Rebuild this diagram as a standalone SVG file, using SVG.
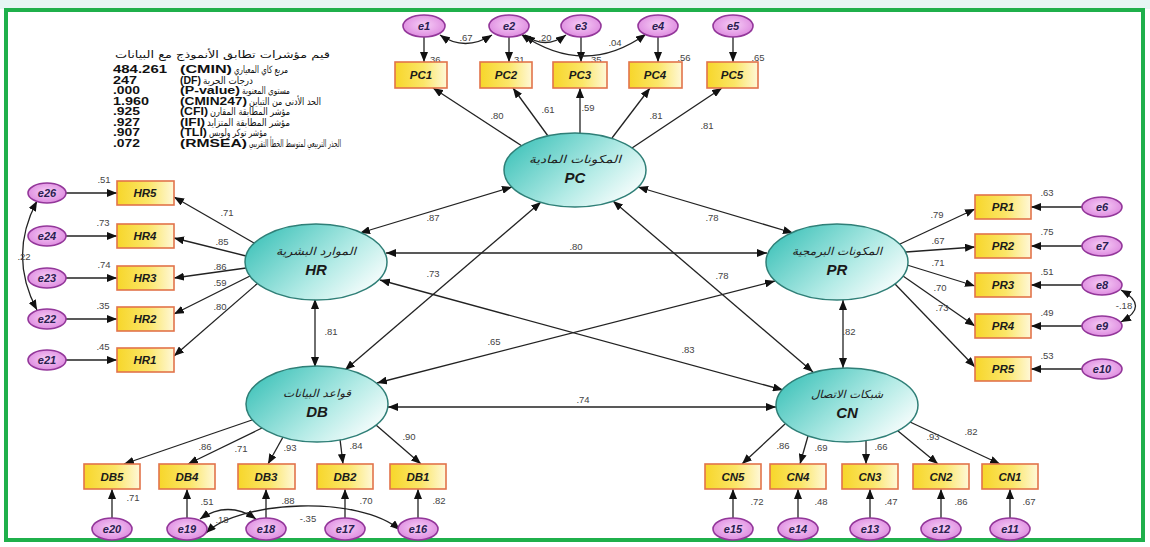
<svg xmlns="http://www.w3.org/2000/svg" width="1150" height="547" viewBox="0 0 1150 547">
<defs>
<marker id="ah" viewBox="0 0 10 8" refX="10" refY="4" markerWidth="10" markerHeight="8" markerUnits="userSpaceOnUse" orient="auto-start-reverse"><path d="M0,0 L10,4 L0,8 z" fill="#111"/></marker>
<radialGradient id="eg" cx="0.5" cy="0.45" r="0.6"><stop offset="0" stop-color="#f6cdf6"/><stop offset="1" stop-color="#dc86de"/></radialGradient>
<linearGradient id="bg" x1="0" y1="0" x2="1" y2="0"><stop offset="0" stop-color="#f7d62a"/><stop offset="0.55" stop-color="#fbe668"/><stop offset="1" stop-color="#fff8d8"/></linearGradient>
<linearGradient id="lg" x1="0" y1="0.2" x2="1" y2="0.8"><stop offset="0" stop-color="#3ec2b9"/><stop offset="0.6" stop-color="#b4ebe6"/><stop offset="1" stop-color="#ffffff"/></linearGradient>
<style>
.e{fill:url(#eg);stroke:#93379a;stroke-width:1.6}
.b{fill:url(#bg);stroke:#e2734a;stroke-width:1.6}
.l{fill:url(#lg);stroke:#2f7f77;stroke-width:1.5}
.el{font-family:"Liberation Sans",Arial,sans-serif;font-weight:bold;font-style:italic;font-size:11px;fill:#2a2050;text-anchor:middle}
.bl{font-family:"Liberation Sans",Arial,sans-serif;font-weight:bold;font-style:italic;font-size:11.5px;fill:#1a1a1a;text-anchor:middle}
.ar{font-family:"DejaVu Sans","Noto Sans",sans-serif;font-style:italic;font-size:11px;fill:#222;text-anchor:middle}
.code{font-family:"Liberation Sans",Arial,sans-serif;font-weight:bold;font-style:italic;font-size:15px;fill:#1a1a1a;text-anchor:middle}
.n{font-family:"Liberation Sans",Arial,sans-serif;font-size:9.5px;fill:#444;text-anchor:middle}
.t{font-family:"Liberation Sans",Arial,sans-serif;font-weight:bold;font-size:11px;fill:#111}
.ta{font-family:"DejaVu Sans","Noto Sans",sans-serif;font-size:10px;fill:#111}
.c line,.c path{stroke:#222;stroke-width:1.3;fill:none}
</style>
</defs>
<rect x="0" y="0" width="1150" height="547" fill="#ffffff"/>
<rect x="0" y="0" width="1150" height="9" fill="#e6f6f4"/>
<rect x="6" y="10" width="1137" height="530" fill="none" stroke="#1fb04b" stroke-width="4"/>

<g id="fit-table">
<text class="ta" x="115" y="58" textLength="215" lengthAdjust="spacingAndGlyphs">قيم مؤشرات تطابق الأنموذج مع البيانات</text>
<text class="t" x="113" y="73" textLength="54" lengthAdjust="spacingAndGlyphs">484.261</text>
<text class="t" x="180" y="73" textLength="52" lengthAdjust="spacingAndGlyphs">(CMIN)</text>
<text class="ta" x="234" y="73" textLength="54" lengthAdjust="spacingAndGlyphs">مربع كاي المعياري</text>
<text class="t" x="113" y="83.5" textLength="24" lengthAdjust="spacingAndGlyphs">247</text>
<text class="t" x="180" y="83.5" textLength="21" lengthAdjust="spacingAndGlyphs">(DF)</text>
<text class="ta" x="203" y="83.5" textLength="50" lengthAdjust="spacingAndGlyphs">درجات الحرية</text>
<text class="t" x="113" y="94" textLength="27" lengthAdjust="spacingAndGlyphs">.000</text>
<text class="t" x="180" y="94" textLength="60" lengthAdjust="spacingAndGlyphs">(P-value)</text>
<text class="ta" x="242" y="94" textLength="48" lengthAdjust="spacingAndGlyphs">مستوى المعنوية</text>
<text class="t" x="113" y="104.5" textLength="36" lengthAdjust="spacingAndGlyphs">1.960</text>
<text class="t" x="180" y="104.5" textLength="67" lengthAdjust="spacingAndGlyphs">(CMIN247)</text>
<text class="ta" x="249" y="104.5" textLength="72" lengthAdjust="spacingAndGlyphs">الحد الأدنى من التباين</text>
<text class="t" x="113" y="115" textLength="27" lengthAdjust="spacingAndGlyphs">.925</text>
<text class="t" x="180" y="115" textLength="28" lengthAdjust="spacingAndGlyphs">(CFI)</text>
<text class="ta" x="210" y="115" textLength="80" lengthAdjust="spacingAndGlyphs">مؤشر المطابقة المقارن</text>
<text class="t" x="113" y="125.5" textLength="27" lengthAdjust="spacingAndGlyphs">.927</text>
<text class="t" x="180" y="125.5" textLength="25" lengthAdjust="spacingAndGlyphs">(IFI)</text>
<text class="ta" x="207" y="125.5" textLength="83" lengthAdjust="spacingAndGlyphs">مؤشر المطابقة المتزايد</text>
<text class="t" x="113" y="136" textLength="27" lengthAdjust="spacingAndGlyphs">.907</text>
<text class="t" x="180" y="136" textLength="27" lengthAdjust="spacingAndGlyphs">(TLI)</text>
<text class="ta" x="209" y="136" textLength="58" lengthAdjust="spacingAndGlyphs">مؤشر توكر ولويس</text>
<text class="t" x="113" y="146.5" textLength="27" lengthAdjust="spacingAndGlyphs">.072</text>
<text class="t" x="180" y="146.5" textLength="67" lengthAdjust="spacingAndGlyphs">(RMSEA)</text>
<text class="ta" x="249" y="146.5" textLength="92" lengthAdjust="spacingAndGlyphs">الجذر التربيعي لمتوسط الخطأ التقريبي</text>
</g>

<g id="connectors" class="c">
<line x1="512" y1="187" x2="360" y2="233" marker-start="url(#ah)" marker-end="url(#ah)"/>
<line x1="638" y1="187" x2="793" y2="233" marker-start="url(#ah)" marker-end="url(#ah)"/>
<line x1="386" y1="253" x2="767" y2="253" marker-start="url(#ah)" marker-end="url(#ah)"/>
<line x1="541" y1="202" x2="345" y2="370" marker-start="url(#ah)" marker-end="url(#ah)"/>
<line x1="613" y1="201" x2="813" y2="372" marker-start="url(#ah)" marker-end="url(#ah)"/>
<line x1="380" y1="280" x2="783" y2="390" marker-start="url(#ah)" marker-end="url(#ah)"/>
<line x1="775" y1="281" x2="377" y2="383" marker-start="url(#ah)" marker-end="url(#ah)"/>
<line x1="388" y1="407" x2="776" y2="407" marker-start="url(#ah)" marker-end="url(#ah)"/>
<line x1="315" y1="299" x2="315" y2="367" marker-start="url(#ah)" marker-end="url(#ah)"/>
<line x1="843" y1="300" x2="843" y2="368" marker-start="url(#ah)" marker-end="url(#ah)"/>
<line x1="522" y1="146" x2="433" y2="88" marker-end="url(#ah)"/>
<line x1="548" y1="136" x2="513" y2="88" marker-end="url(#ah)"/>
<line x1="580" y1="133" x2="580" y2="88" marker-end="url(#ah)"/>
<line x1="612" y1="138" x2="650" y2="88" marker-end="url(#ah)"/>
<line x1="632" y1="148" x2="722" y2="88" marker-end="url(#ah)"/>
<line x1="424" y1="37" x2="424" y2="62" marker-end="url(#ah)"/>
<line x1="509" y1="37" x2="509" y2="62" marker-end="url(#ah)"/>
<line x1="581" y1="37" x2="581" y2="62" marker-end="url(#ah)"/>
<line x1="658" y1="37" x2="658" y2="62" marker-end="url(#ah)"/>
<line x1="733" y1="37" x2="733" y2="62" marker-end="url(#ah)"/>
<path d="M440,35 Q465,52 492,35" marker-start="url(#ah)" marker-end="url(#ah)"/>
<path d="M525,35 Q545,50 566,35" marker-start="url(#ah)" marker-end="url(#ah)"/>
<path d="M521,34 Q585,78 646,34" marker-start="url(#ah)" marker-end="url(#ah)"/>
<line x1="254" y1="243" x2="174" y2="197" marker-end="url(#ah)"/>
<line x1="246" y1="256" x2="174" y2="238" marker-end="url(#ah)"/>
<line x1="246" y1="268" x2="174" y2="278" marker-end="url(#ah)"/>
<line x1="250" y1="276" x2="174" y2="314" marker-end="url(#ah)"/>
<line x1="258" y1="283" x2="174" y2="356" marker-end="url(#ah)"/>
<line x1="66" y1="193" x2="117" y2="193" marker-end="url(#ah)"/>
<line x1="66" y1="236" x2="117" y2="236" marker-end="url(#ah)"/>
<line x1="66" y1="278" x2="117" y2="278" marker-end="url(#ah)"/>
<line x1="66" y1="319" x2="117" y2="319" marker-end="url(#ah)"/>
<line x1="66" y1="360" x2="117" y2="360" marker-end="url(#ah)"/>
<path d="M37,201 Q8,256 37,310" marker-start="url(#ah)" marker-end="url(#ah)"/>
<line x1="900" y1="244" x2="975" y2="209" marker-end="url(#ah)"/>
<line x1="906" y1="252" x2="975" y2="247" marker-end="url(#ah)"/>
<line x1="907" y1="265" x2="975" y2="286" marker-end="url(#ah)"/>
<line x1="903" y1="276" x2="975" y2="326" marker-end="url(#ah)"/>
<line x1="895" y1="284" x2="975" y2="367" marker-end="url(#ah)"/>
<line x1="1082" y1="207" x2="1031" y2="207" marker-end="url(#ah)"/>
<line x1="1082" y1="246" x2="1031" y2="246" marker-end="url(#ah)"/>
<line x1="1082" y1="285" x2="1031" y2="285" marker-end="url(#ah)"/>
<line x1="1082" y1="326" x2="1031" y2="326" marker-end="url(#ah)"/>
<line x1="1082" y1="369" x2="1031" y2="369" marker-end="url(#ah)"/>
<path d="M1121,290 Q1150,306 1121,322" marker-start="url(#ah)" marker-end="url(#ah)"/>
<line x1="252" y1="420" x2="124" y2="464" marker-end="url(#ah)"/>
<line x1="262" y1="428" x2="188" y2="464" marker-end="url(#ah)"/>
<line x1="283" y1="437" x2="268" y2="464" marker-end="url(#ah)"/>
<line x1="340" y1="439" x2="343" y2="464" marker-end="url(#ah)"/>
<line x1="376" y1="425" x2="421" y2="464" marker-end="url(#ah)"/>
<line x1="112" y1="518" x2="112" y2="489" marker-end="url(#ah)"/>
<line x1="187" y1="518" x2="187" y2="489" marker-end="url(#ah)"/>
<line x1="266" y1="518" x2="266" y2="489" marker-end="url(#ah)"/>
<line x1="345" y1="518" x2="345" y2="489" marker-end="url(#ah)"/>
<line x1="418" y1="518" x2="418" y2="489" marker-end="url(#ah)"/>
<path d="M200,519 Q228,500 256,519" marker-start="url(#ah)" marker-end="url(#ah)"/>
<path d="M206,533 C240,500 360,495 400,530" marker-start="url(#ah)" marker-end="url(#ah)"/>
<line x1="785" y1="424" x2="742" y2="464" marker-end="url(#ah)"/>
<line x1="808" y1="436" x2="800" y2="464" marker-end="url(#ah)"/>
<line x1="866" y1="441" x2="866" y2="464" marker-end="url(#ah)"/>
<line x1="898" y1="431" x2="938" y2="464" marker-end="url(#ah)"/>
<line x1="910" y1="422" x2="1000" y2="464" marker-end="url(#ah)"/>
<line x1="733" y1="518" x2="733" y2="489" marker-end="url(#ah)"/>
<line x1="798" y1="518" x2="798" y2="489" marker-end="url(#ah)"/>
<line x1="870" y1="518" x2="870" y2="489" marker-end="url(#ah)"/>
<line x1="941" y1="518" x2="941" y2="489" marker-end="url(#ah)"/>
<line x1="1010" y1="518" x2="1010" y2="489" marker-end="url(#ah)"/>
</g>

<g id="labels" class="n">
<text x="433" y="221">.87</text><text x="712" y="221">.78</text><text x="576" y="250">.80</text>
<text x="433" y="277">.73</text><text x="722" y="279">.78</text><text x="688" y="353">.83</text>
<text x="494" y="345">.65</text><text x="583" y="403">.74</text><text x="331" y="335">.81</text><text x="849" y="335">.82</text>
<text x="497" y="119">.80</text><text x="548" y="113">.61</text><text x="588" y="111">.59</text><text x="656" y="119">.81</text><text x="707" y="129">.81</text>
<text x="434" y="63">.36</text><text x="518" y="63">.31</text><text x="595" y="63">.35</text><text x="684" y="61">.56</text><text x="758" y="61">.65</text>
<text x="466" y="41">.67</text><text x="545" y="41">.20</text><text x="615" y="46">.04</text>
<text x="227" y="216">.71</text><text x="222" y="245">.85</text><text x="220" y="270">.86</text><text x="220" y="286">.59</text><text x="220" y="310">.80</text>
<text x="104" y="183">.51</text><text x="103" y="226">.73</text><text x="104" y="268">.74</text><text x="103" y="309">.35</text><text x="103" y="350">.45</text>
<text x="24" y="260">.22</text>
<text x="937" y="218">.79</text><text x="938" y="244">.67</text><text x="938" y="266">.71</text><text x="940" y="291">.70</text><text x="942" y="311">.73</text>
<text x="1047" y="196">.63</text><text x="1047" y="235">.75</text><text x="1047" y="275">.51</text><text x="1047" y="316">.49</text><text x="1047" y="359">.53</text>
<text x="1124" y="309">-.18</text>
<text x="205" y="450">.86</text><text x="241" y="452">.71</text><text x="290" y="451">.93</text><text x="356" y="449">.84</text><text x="409" y="440">.90</text>
<text x="133" y="501">.71</text><text x="207" y="505">.51</text><text x="288" y="504">.88</text><text x="366" y="504">.70</text><text x="439" y="504">.82</text>
<text x="222" y="523">.18</text><text x="308" y="522">-.35</text>
<text x="783" y="449">.86</text><text x="821" y="451">.69</text><text x="881" y="450">.66</text><text x="933" y="440">.93</text><text x="971" y="435">.82</text>
<text x="757" y="505">.72</text><text x="821" y="505">.48</text><text x="891" y="505">.47</text><text x="961" y="505">.86</text><text x="1029" y="505">.67</text>
</g>

<g id="PC"><ellipse class="l" cx="575" cy="170" rx="71" ry="37"/><text class="ar" x="575" y="163" textLength="92" lengthAdjust="spacingAndGlyphs">المكونات المادية</text><text class="code" x="575" y="183">PC</text></g>
<g id="HR"><ellipse class="l" cx="316" cy="262" rx="71" ry="38"/><text class="ar" x="316" y="255" textLength="80" lengthAdjust="spacingAndGlyphs">الموارد البشرية</text><text class="code" x="316" y="275">HR</text></g>
<g id="PR"><ellipse class="l" cx="837" cy="262" rx="71" ry="38"/><text class="ar" x="837" y="255" textLength="90" lengthAdjust="spacingAndGlyphs">المكونات البرمجية</text><text class="code" x="837" y="275">PR</text></g>
<g id="DB"><ellipse class="l" cx="317" cy="404" rx="71" ry="38"/><text class="ar" x="317" y="397" textLength="68" lengthAdjust="spacingAndGlyphs">قواعد البيانات</text><text class="code" x="317" y="417">DB</text></g>
<g id="CN"><ellipse class="l" cx="847" cy="405" rx="71" ry="37"/><text class="ar" x="847" y="398" textLength="72" lengthAdjust="spacingAndGlyphs">شبكات الاتصال</text><text class="code" x="847" y="418">CN</text></g>

<g id="PC1"><rect class="b" x="395" y="62" width="52" height="26"/><text class="bl" x="421" y="79">PC1</text></g>
<g id="PC2"><rect class="b" x="480" y="62" width="52" height="26"/><text class="bl" x="506" y="79">PC2</text></g>
<g id="PC3"><rect class="b" x="553" y="62" width="54" height="26"/><text class="bl" x="580" y="79">PC3</text></g>
<g id="PC4"><rect class="b" x="629" y="62" width="53" height="26"/><text class="bl" x="655" y="79">PC4</text></g>
<g id="PC5"><rect class="b" x="707" y="62" width="51" height="26"/><text class="bl" x="732" y="79">PC5</text></g>
<g id="e1"><ellipse class="e" cx="424" cy="26" rx="21" ry="11"/><text class="el" x="424" y="30">e1</text></g>
<g id="e2"><ellipse class="e" cx="509" cy="26" rx="20" ry="11"/><text class="el" x="509" y="30">e2</text></g>
<g id="e3"><ellipse class="e" cx="581" cy="26" rx="20" ry="11"/><text class="el" x="581" y="30">e3</text></g>
<g id="e4"><ellipse class="e" cx="658" cy="26" rx="20" ry="11"/><text class="el" x="658" y="30">e4</text></g>
<g id="e5"><ellipse class="e" cx="733" cy="26" rx="20" ry="11"/><text class="el" x="733" y="30">e5</text></g>

<g id="HR5"><rect class="b" x="117" y="181" width="57" height="24"/><text class="bl" x="145" y="197">HR5</text></g>
<g id="HR4"><rect class="b" x="117" y="224" width="57" height="24"/><text class="bl" x="145" y="240">HR4</text></g>
<g id="HR3"><rect class="b" x="117" y="266" width="57" height="24"/><text class="bl" x="145" y="282">HR3</text></g>
<g id="HR2"><rect class="b" x="117" y="307" width="57" height="24"/><text class="bl" x="145" y="323">HR2</text></g>
<g id="HR1"><rect class="b" x="117" y="348" width="57" height="24"/><text class="bl" x="145" y="364">HR1</text></g>
<g id="e26"><ellipse class="e" cx="47" cy="193" rx="19" ry="10"/><text class="el" x="47" y="197">e26</text></g>
<g id="e24"><ellipse class="e" cx="47" cy="236" rx="19" ry="10"/><text class="el" x="47" y="240">e24</text></g>
<g id="e23"><ellipse class="e" cx="47" cy="278" rx="19" ry="10"/><text class="el" x="47" y="282">e23</text></g>
<g id="e22"><ellipse class="e" cx="47" cy="319" rx="19" ry="10"/><text class="el" x="47" y="323">e22</text></g>
<g id="e21"><ellipse class="e" cx="47" cy="360" rx="19" ry="10"/><text class="el" x="47" y="364">e21</text></g>

<g id="PR1"><rect class="b" x="975" y="195" width="56" height="24"/><text class="bl" x="1003" y="211">PR1</text></g>
<g id="PR2"><rect class="b" x="975" y="234" width="56" height="24"/><text class="bl" x="1003" y="250">PR2</text></g>
<g id="PR3"><rect class="b" x="975" y="273" width="56" height="24"/><text class="bl" x="1003" y="289">PR3</text></g>
<g id="PR4"><rect class="b" x="975" y="314" width="56" height="24"/><text class="bl" x="1003" y="330">PR4</text></g>
<g id="PR5"><rect class="b" x="975" y="357" width="56" height="24"/><text class="bl" x="1003" y="373">PR5</text></g>
<g id="e6"><ellipse class="e" cx="1102" cy="207" rx="20" ry="10"/><text class="el" x="1102" y="211">e6</text></g>
<g id="e7"><ellipse class="e" cx="1102" cy="246" rx="20" ry="10"/><text class="el" x="1102" y="250">e7</text></g>
<g id="e8"><ellipse class="e" cx="1102" cy="285" rx="20" ry="10"/><text class="el" x="1102" y="289">e8</text></g>
<g id="e9"><ellipse class="e" cx="1102" cy="326" rx="20" ry="10"/><text class="el" x="1102" y="330">e9</text></g>
<g id="e10"><ellipse class="e" cx="1102" cy="369" rx="20" ry="10"/><text class="el" x="1102" y="373">e10</text></g>

<g id="DB5"><rect class="b" x="84" y="464" width="56" height="25"/><text class="bl" x="112" y="481">DB5</text></g>
<g id="DB4"><rect class="b" x="159" y="464" width="56" height="25"/><text class="bl" x="187" y="481">DB4</text></g>
<g id="DB3"><rect class="b" x="238" y="464" width="57" height="25"/><text class="bl" x="266" y="481">DB3</text></g>
<g id="DB2"><rect class="b" x="317" y="464" width="56" height="25"/><text class="bl" x="345" y="481">DB2</text></g>
<g id="DB1"><rect class="b" x="390" y="464" width="56" height="25"/><text class="bl" x="418" y="481">DB1</text></g>
<g id="e20"><ellipse class="e" cx="112" cy="529" rx="20" ry="11"/><text class="el" x="112" y="533">e20</text></g>
<g id="e19"><ellipse class="e" cx="187" cy="529" rx="20" ry="11"/><text class="el" x="187" y="533">e19</text></g>
<g id="e18"><ellipse class="e" cx="266" cy="529" rx="20" ry="11"/><text class="el" x="266" y="533">e18</text></g>
<g id="e17"><ellipse class="e" cx="345" cy="529" rx="20" ry="11"/><text class="el" x="345" y="533">e17</text></g>
<g id="e16"><ellipse class="e" cx="418" cy="529" rx="20" ry="11"/><text class="el" x="418" y="533">e16</text></g>

<g id="CN5"><rect class="b" x="705" y="464" width="56" height="25"/><text class="bl" x="733" y="481">CN5</text></g>
<g id="CN4"><rect class="b" x="770" y="464" width="56" height="25"/><text class="bl" x="798" y="481">CN4</text></g>
<g id="CN3"><rect class="b" x="842" y="464" width="56" height="25"/><text class="bl" x="870" y="481">CN3</text></g>
<g id="CN2"><rect class="b" x="913" y="464" width="56" height="25"/><text class="bl" x="941" y="481">CN2</text></g>
<g id="CN1"><rect class="b" x="982" y="464" width="56" height="25"/><text class="bl" x="1010" y="481">CN1</text></g>
<g id="e15"><ellipse class="e" cx="733" cy="529" rx="20" ry="11"/><text class="el" x="733" y="533">e15</text></g>
<g id="e14"><ellipse class="e" cx="798" cy="529" rx="20" ry="11"/><text class="el" x="798" y="533">e14</text></g>
<g id="e13"><ellipse class="e" cx="870" cy="529" rx="20" ry="11"/><text class="el" x="870" y="533">e13</text></g>
<g id="e12"><ellipse class="e" cx="941" cy="529" rx="20" ry="11"/><text class="el" x="941" y="533">e12</text></g>
<g id="e11"><ellipse class="e" cx="1010" cy="529" rx="20" ry="11"/><text class="el" x="1010" y="533">e11</text></g>
</svg>
